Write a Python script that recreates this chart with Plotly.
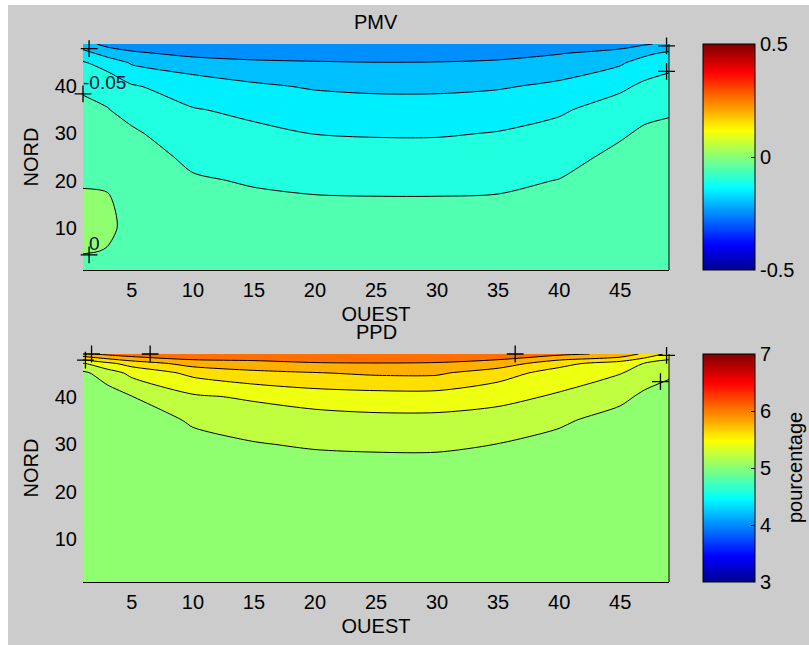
import numpy as np
import plotly.graph_objects as go

# ---------------- data ----------------
x_nodes = [1, 3, 5, 10, 15, 20, 25, 30, 35, 40, 45, 47, 49]          # OUEST
y_nodes = [1, 5, 10, 15, 20, 25, 30, 35, 40, 45, 47, 49]             # NORD

# PMV values, one list per OUEST column (bottom -> top along NORD)
pmv_columns = [
    [-0.012, 0.002, 0.008, 0.004, -0.002, -0.015, -0.027, -0.040, -0.056, -0.095, -0.130, -0.180],
    [-0.014, -0.001, 0.004, 0.003, -0.003, -0.018, -0.032, -0.048, -0.066, -0.120, -0.170, -0.215],
    [-0.016, -0.010, -0.006, -0.009, -0.017, -0.028, -0.043, -0.065, -0.095, -0.155, -0.190, -0.230],
    [-0.020, -0.021, -0.025, -0.033, -0.045, -0.060, -0.078, -0.097, -0.125, -0.175, -0.215, -0.240],
    [-0.024, -0.026, -0.031, -0.040, -0.054, -0.070, -0.090, -0.110, -0.142, -0.190, -0.222, -0.245],
    [-0.027, -0.029, -0.034, -0.044, -0.059, -0.078, -0.101, -0.123, -0.155, -0.195, -0.225, -0.247],
    [-0.028, -0.030, -0.035, -0.045, -0.060, -0.080, -0.104, -0.128, -0.160, -0.198, -0.228, -0.248],
    [-0.028, -0.030, -0.035, -0.045, -0.060, -0.080, -0.104, -0.128, -0.160, -0.197, -0.227, -0.248],
    [-0.027, -0.029, -0.034, -0.044, -0.058, -0.076, -0.098, -0.120, -0.155, -0.190, -0.222, -0.245],
    [-0.023, -0.025, -0.029, -0.036, -0.049, -0.064, -0.083, -0.107, -0.140, -0.180, -0.202, -0.235],
    [-0.018, -0.019, -0.021, -0.025, -0.031, -0.040, -0.055, -0.075, -0.110, -0.156, -0.182, -0.220],
    [-0.016, -0.017, -0.018, -0.021, -0.026, -0.033, -0.044, -0.060, -0.090, -0.130, -0.160, -0.205],
    [-0.015, -0.016, -0.017, -0.019, -0.023, -0.030, -0.040, -0.055, -0.080, -0.115, -0.140, -0.190],
]

# PPD values (%), one list per OUEST column
ppd_columns = [
    [5.00, 5.00, 5.00, 5.00, 5.00, 5.01, 5.02, 5.04, 5.08, 5.16, 5.38, 5.95],
    [5.00, 5.00, 5.00, 5.00, 5.01, 5.02, 5.03, 5.06, 5.10, 5.30, 5.55, 6.05],
    [5.00, 5.00, 5.00, 5.01, 5.02, 5.03, 5.05, 5.10, 5.195, 5.45, 5.68, 6.12],
    [5.01, 5.02, 5.03, 5.05, 5.07, 5.10, 5.15, 5.22, 5.37, 5.65, 5.88, 6.18],
    [5.01, 5.02, 5.03, 5.06, 5.08, 5.11, 5.19, 5.28, 5.43, 5.75, 5.93, 6.16],
    [5.01, 5.02, 5.04, 5.06, 5.09, 5.13, 5.22, 5.31, 5.50, 5.79, 5.98, 6.18],
    [5.01, 5.02, 5.04, 5.07, 5.10, 5.14, 5.23, 5.34, 5.52, 5.83, 5.99, 6.18],
    [5.01, 5.02, 5.04, 5.07, 5.10, 5.14, 5.23, 5.34, 5.52, 5.83, 5.98, 6.17],
    [5.01, 5.02, 5.03, 5.06, 5.09, 5.12, 5.198, 5.30, 5.47, 5.68, 5.92, 6.12],
    [5.01, 5.01, 5.02, 5.04, 5.06, 5.09, 5.14, 5.23, 5.37, 5.52, 5.66, 6.05],
    [5.00, 5.01, 5.01, 5.02, 5.04, 5.06, 5.08, 5.12, 5.25, 5.41, 5.50, 5.95],
    [5.00, 5.00, 5.01, 5.02, 5.03, 5.05, 5.07, 5.10, 5.16, 5.30, 5.39, 5.75],
    [5.00, 5.00, 5.00, 5.01, 5.02, 5.03, 5.05, 5.08, 5.12, 5.23, 5.30, 5.55],
]

# contour levels
pmv_levels = dict(start=-0.2, end=0.0, size=0.05)
ppd_levels = dict(start=5.2, end=6.2, size=0.2)
pmv_crange = [-0.5, 0.5]
ppd_crange = [3, 7]

# contour labels (clabel positions)
pmv_label_x = [1.5, 1.0, 1.5, 48.8, 48.8]
pmv_label_y = [48.0, 38.4, 4.2, 48.6, 43.2]
pmv_label_text = ["", "-0.05", "0", "", ""]
ppd_label_x = [1.7, 1.2, 6.5, 36.4, 48.8, 48.3]
ppd_label_y = [49.0, 47.7, 49.0, 49.0, 48.7, 43.2]

x_ticks = [5, 10, 15, 20, 25, 30, 35, 40, 45]
y_ticks = [10, 20, 30, 40]
pmv_cb_ticks = [-0.5, 0, 0.5]
pmv_cb_text = ["-0.5", "0", "0.5"]
ppd_cb_ticks = [3, 4, 5, 6, 7]

# ---------------- colormap (MATLAB jet, 64 colours) ----------------
def jet64(i):
    if i <= 8:
        c = (0, 0, (8 + i) / 16)
    elif i <= 24:
        c = (0, (i - 8) / 16, 1)
    elif i <= 40:
        c = ((i - 24) / 16, 1, 1 - (i - 24) / 16)
    elif i <= 56:
        c = (1, 1 - (i - 40) / 16, 0)
    else:
        c = (1 - (i - 56) / 16, 0, 0)
    return "rgb(%d,%d,%d)" % tuple(round(255 * v) for v in c)

jet_scale = [[k / 63, jet64(k + 1)] for k in range(64)]

def cmap_color(v, lo, hi):
    k = int(np.floor((v - lo) / (hi - lo) * 64 + 1e-9))
    k = min(max(k, 0), 63)
    return jet64(k + 1)

def fill_scale(levels, crange):
    start, end, size = levels["start"], levels["end"], levels["size"]
    nlev = int(round((end - start) / size)) + 1
    bounds = [start - size] + [start + j * size for j in range(nlev)]
    cols = [cmap_color(b, *crange) for b in bounds]
    nc = nlev
    scale = []
    for k, c in enumerate(cols):
        scale.append([max(0.0, (k - 0.5) / nc), c])
        scale.append([min(1.0, (k + 0.5) / nc), c])
    return scale

pmv_z = np.array(pmv_columns).T
ppd_z = np.array(ppd_columns).T

FONT = "Liberation Sans, Arial, sans-serif"
FS = 20
W, H = 809, 645
OX, OY = 8, 5          # page offset of the figure in the screenshot
BG = "#CCCCCC"

def px_x(p):
    return (p - OX) / W

def px_y(p):
    return 1 - (p - OY) / H

top_dom = [px_y(270), px_y(44)]
bot_dom = [px_y(582), px_y(354)]
x_dom = [px_x(83), px_x(669)]

fig = go.Figure()

# PMV contour
fig.add_trace(go.Contour(
    x=x_nodes, y=y_nodes, z=pmv_z, xaxis="x", yaxis="y",
    autocontour=False, contours=dict(coloring="fill", showlines=True, **pmv_levels),
    colorscale=fill_scale(pmv_levels, pmv_crange), showscale=False,
    line=dict(color="black", width=1, smoothing=0.8), hoverinfo="skip",
))
# PPD contour
fig.add_trace(go.Contour(
    x=x_nodes, y=y_nodes, z=ppd_z, xaxis="x2", yaxis="y2",
    autocontour=False, contours=dict(coloring="fill", showlines=True, **ppd_levels),
    colorscale=fill_scale(ppd_levels, ppd_crange), showscale=False,
    line=dict(color="black", width=1, smoothing=0.8), hoverinfo="skip",
))

# contour label markers
cross = dict(symbol="cross-thin", size=12, line=dict(color="black", width=1.3))
fig.add_trace(go.Scatter(
    x=pmv_label_x, y=pmv_label_y, xaxis="x", yaxis="y",
    mode="markers", cliponaxis=False, marker=cross,
    showlegend=False, hoverinfo="skip",
))
# contour label texts
fig.add_trace(go.Scatter(
    x=pmv_label_x, y=pmv_label_y, text=pmv_label_text, xaxis="x", yaxis="y",
    mode="text", textposition="top right", cliponaxis=False,
    marker=dict(size=1),
    textfont=dict(family=FONT, size=19, color="#101040"),
    showlegend=False, hoverinfo="skip",
))
fig.add_trace(go.Scatter(
    x=ppd_label_x, y=ppd_label_y, xaxis="x2", yaxis="y2",
    mode="markers", cliponaxis=False, marker=cross,
    showlegend=False, hoverinfo="skip",
))

def cbar(ticks, text, dom):
    return dict(
        x=px_x(703), xanchor="left", xpad=0,
        y=dom[1], yanchor="top", ypad=0,
        len=(dom[1] - dom[0]) * H, lenmode="pixels",
        thickness=52, thicknessmode="pixels",
        outlinewidth=1, outlinecolor="black",
        tickvals=ticks, ticktext=text, ticks="inside", ticklen=4, tickcolor="black",
        tickfont=dict(family=FONT, size=FS, color="black"),
    )

# colour bars (continuous jet)
fig.add_trace(go.Scatter(
    x=[None], y=[None], xaxis="x", yaxis="y", mode="markers",
    marker=dict(color=[0], colorscale=jet_scale, cmin=pmv_crange[0], cmax=pmv_crange[1],
                showscale=True, colorbar=cbar(pmv_cb_ticks, pmv_cb_text, top_dom)),
    showlegend=False, hoverinfo="skip",
))
fig.add_trace(go.Scatter(
    x=[None], y=[None], xaxis="x2", yaxis="y2", mode="markers",
    marker=dict(color=[5], colorscale=jet_scale, cmin=ppd_crange[0], cmax=ppd_crange[1],
                showscale=True,
                colorbar=cbar(ppd_cb_ticks, [str(t) for t in ppd_cb_ticks], bot_dom)),
    showlegend=False, hoverinfo="skip",
))

def xax(anchor):
    return dict(domain=x_dom, range=[1, 49], anchor=anchor, tickvals=x_ticks,
                showgrid=False, zeroline=False, showline=True, linecolor="black", linewidth=1,
                ticks="outside", ticklen=2, tickcolor="rgba(0,0,0,0)",
                tickfont=dict(family=FONT, size=FS, color="black"),
                title=dict(text="OUEST", standoff=6, font=dict(family=FONT, size=FS, color="black")),
                automargin=False)

def yax(dom, anchor):
    return dict(domain=dom, range=[1, 49], anchor=anchor, tickvals=y_ticks,
                showgrid=False, zeroline=False, showline=False,
                ticks="outside", ticklen=1, tickcolor="rgba(0,0,0,0)",
                tickfont=dict(family=FONT, size=FS, color="black"),
                title=dict(text="NORD", standoff=10, font=dict(family=FONT, size=FS, color="black")),
                automargin=False)

title_font = dict(family=FONT, size=FS, color="black")
fig.update_layout(
    width=W, height=H,
    margin=dict(l=0, r=0, t=0, b=0),
    paper_bgcolor=BG, plot_bgcolor=BG,
    font=dict(family=FONT, size=FS, color="black"),
    xaxis=xax("y"), yaxis=yax(top_dom, "x"),
    xaxis2=xax("y2"), yaxis2=yax(bot_dom, "x2"),
    showlegend=False,
    annotations=[
        dict(text="PMV", x=0.5 * (x_dom[0] + x_dom[1]), y=px_y(22), xref="paper", yref="paper",
             showarrow=False, xanchor="center", yanchor="middle", font=title_font),
        dict(text="PPD", x=0.5 * (x_dom[0] + x_dom[1]), y=px_y(332), xref="paper", yref="paper",
             showarrow=False, xanchor="center", yanchor="middle", font=title_font),
        dict(text="pourcentage", x=px_x(795), y=px_y(468), xref="paper", yref="paper",
             showarrow=False, xanchor="center", yanchor="middle", textangle=-90,
             font=title_font),
    ],
    shapes=[
        dict(type="line", xref="x domain", yref="y domain", x0=1, x1=1, y0=0, y1=1,
             line=dict(color="black", width=1)),
        dict(type="line", xref="x2 domain", yref="y2 domain", x0=1, x1=1, y0=0, y1=1,
             line=dict(color="black", width=1)),
    ],
)

fig.write_html("out.html", post_script="document.body.style.margin='5px 0 0 8px';")
